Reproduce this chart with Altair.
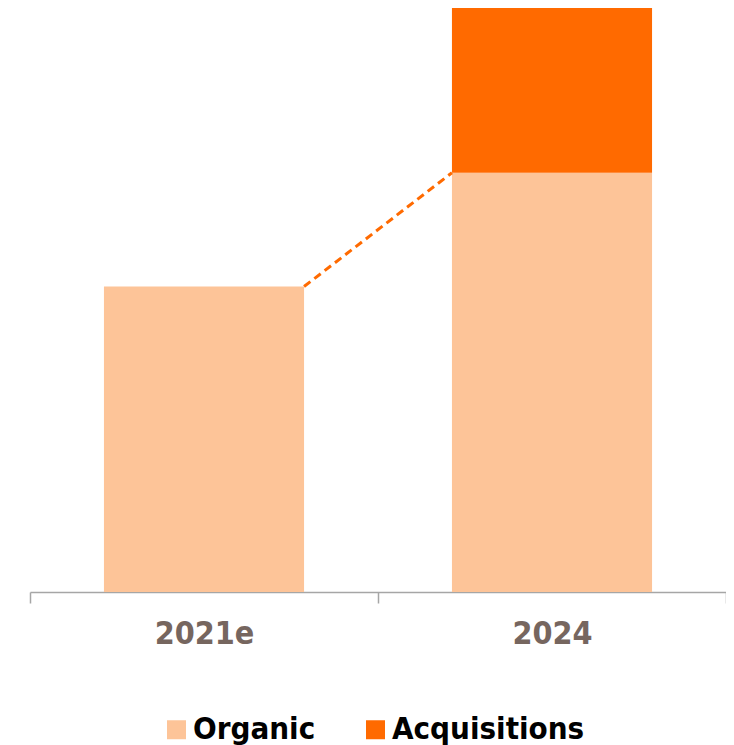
import altair as alt
import pandas as pd

categories = ["2021e", "2024"]
organic = [306, 420]
acquisitions = [0, 165]
series = ["Organic", "Acquisitions"]
colors = ["#FDC498", "#FF6A00"]

rows = []
for i, c in enumerate(categories):
    rows.append({"cat": c, "series": series[0], "value": organic[i], "ord": 0})
    rows.append({"cat": c, "series": series[1], "value": acquisitions[i], "ord": 1})
df = pd.DataFrame(rows)

link = pd.DataFrame([{"from": categories[0], "to": categories[1],
                      "v0": organic[0], "v1": organic[1]}])

total = max(o + a for o, a in zip(organic, acquisitions))

xscale = alt.Scale(domain=categories, paddingInner=0, paddingOuter=0)
yscale = alt.Scale(domain=[0, total], nice=False, zero=True)

bars = alt.Chart(df).mark_bar(width={"band": 0.575}).encode(
    x=alt.X("cat:N", scale=xscale, sort=categories,
            axis=alt.Axis(title=None, labelAngle=0, tickBand="extent",
                          domainColor="#A6A6A6", tickColor="#A6A6A6",
                          tickSize=11, domainWidth=1.5, tickWidth=1.5,
                          labelFont="DejaVu Sans Condensed", labelFontWeight="bold",
                          labelFontSize=32, labelColor="#76665F",
                          labelPadding=15)),
    y=alt.Y("value:Q", stack="zero", scale=yscale, axis=None),
    color=alt.Color("series:N",
                    scale=alt.Scale(domain=series, range=colors),
                    legend=alt.Legend(title=None, orient="none", direction="horizontal",
                                      legendX=131, legendY=706,
                                      symbolType="square", symbolSize=361,
                                      symbolStrokeWidth=0,
                                      labelFont="DejaVu Sans Condensed",
                                      labelFontWeight="bold", labelFontSize=31,
                                      labelColor="#000000", labelOffset=1,
                                      labelLimit=0, columnPadding=44)),
    order=alt.Order("ord:Q", sort="ascending"),
)

dash = alt.Chart(link).mark_rule(color="#FF6A00", strokeWidth=3,
                                 strokeDash=[8, 5]).encode(
    x=alt.X("from:N", scale=xscale, bandPosition=0.7875),
    x2=alt.X2("to:N", bandPosition=0.2125),
    y=alt.Y("v0:Q", scale=yscale),
    y2=alt.Y2("v1:Q"),
)

chart = alt.layer(bars, dash).properties(
    width=696, height=584,
    padding={"left": 22, "top": 0, "right": 0, "bottom": 153},
    autosize=alt.AutoSizeParams(type="none"),
).configure_view(stroke=None)

chart.save("out.html", embed_options={"renderer": "svg", "actions": False})
